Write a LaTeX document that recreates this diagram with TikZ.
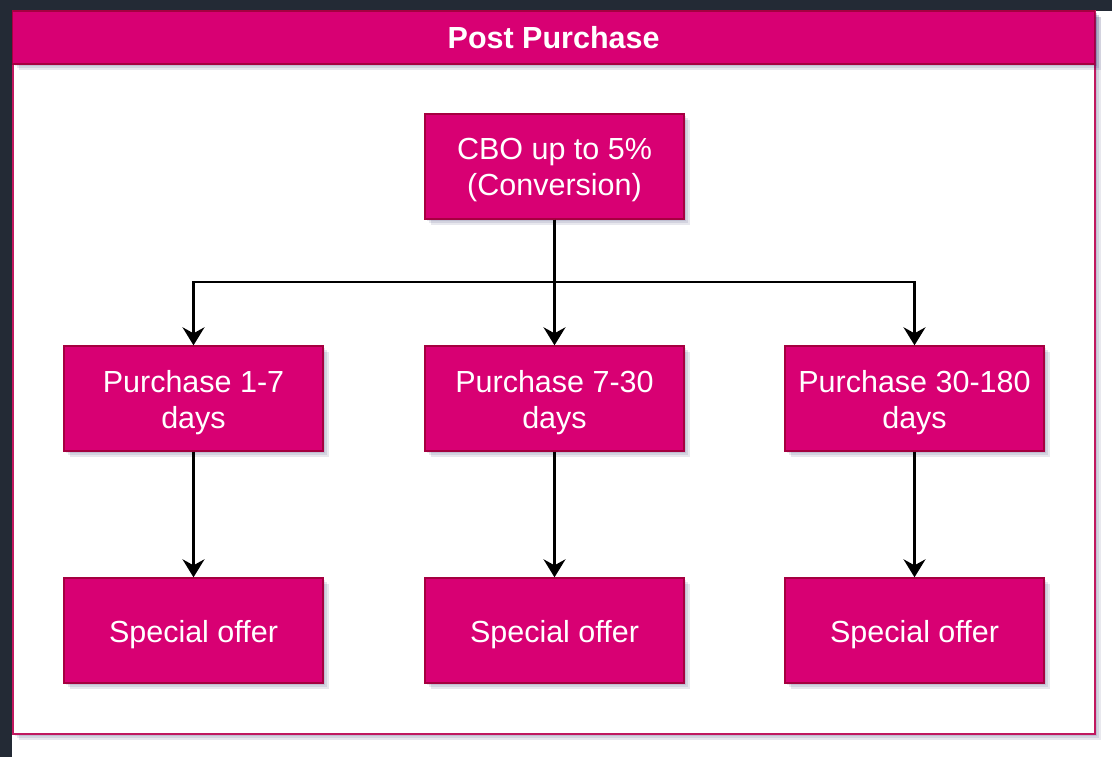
\documentclass[tikz,border=0pt]{standalone}
\usepackage{fontspec}
\setmainfont{Liberation Sans}
\usetikzlibrary{arrows.meta,shadows}

\definecolor{pagedark}{HTML}{232A35}
\definecolor{pinkfill}{HTML}{D80073}
\definecolor{pinkline}{HTML}{A50040}
\definecolor{frameline}{HTML}{C0185F}

\tikzset{
  % layered offset shadows give a soft edge
  softshadow/.style={
    general shadow={opacity=0.09, shadow xshift=2pt, shadow yshift=-2pt, fill=black!70!blue},
    general shadow={opacity=0.09, shadow xshift=4pt, shadow yshift=-4pt, fill=black!70!blue},
    general shadow={opacity=0.09, shadow xshift=6pt, shadow yshift=-6pt, fill=black!70!blue}},
  boxtext/.style={text=white, align=center, font=\fontsize{30.5}{36}\selectfont},
  stepbox/.style={
    draw=pinkline, line width=1.4pt, fill=pinkfill,
    minimum width=259pt, minimum height=105pt, inner sep=0pt, softshadow},
  link/.style={draw=black, line width=2.2pt,
    -{Stealth[length=18pt, width=22pt, inset=6pt]}},
}

\begin{document}
\begin{tikzpicture}[x=1pt, y=-1pt]
  % page backdrop
  \fill[pagedark] (0,0) rectangle (1112,757);
  \fill[white] (12,11) rectangle (1112,757);
  \useasboundingbox (0,0) rectangle (1112,757);

  % outer container with title bar
  \draw[frameline, line width=2pt, fill=white, softshadow] (12.7,11) rectangle (1094.5,733.5);
  \draw[pinkline, line width=1.4pt, fill=pinkfill, softshadow] (12.7,11) rectangle (1094.5,64);
  \node[text=white, font=\bfseries\fontsize{30.5}{36}\selectfont] (title) at (553.6,38) {Post Purchase};

  % top node
  \node[stepbox, label={[boxtext, yshift=-4pt]center:{CBO up to 5\%\\(Conversion)}}] (cbo) at (554.5,166.5) {};

  % purchase windows
  \node[stepbox, label={[boxtext, yshift=-4pt]center:{Purchase 1-7\\days}}] (p1) at (193.5,398.5) {};
  \node[stepbox, label={[boxtext, yshift=-4pt]center:{Purchase 7-30\\days}}] (p2) at (554.5,398.5) {};
  \node[stepbox, label={[boxtext, yshift=-4pt]center:{Purchase 30-180\\days}}] (p3) at (914.5,398.5) {};

  % offers
  \node[stepbox, label={[boxtext, yshift=-4pt]center:{Special offer}}] (s1) at (193.5,630.5) {};
  \node[stepbox, label={[boxtext, yshift=-4pt]center:{Special offer}}] (s2) at (554.5,630.5) {};
  \node[stepbox, label={[boxtext, yshift=-4pt]center:{Special offer}}] (s3) at (914.5,630.5) {};

  % branching connectors
  \coordinate (fork) at (554.5,282);
  \draw[link] (cbo.south) -- (fork) -| (p1.north);
  \draw[link] (cbo.south) -- (fork) -| (p3.north);
  \draw[link] (cbo.south) -- (p2.north);

  % window to offer connectors
  \draw[link] (p1.south) -- (s1.north);
  \draw[link] (p2.south) -- (s2.north);
  \draw[link] (p3.south) -- (s3.north);
\end{tikzpicture}
\end{document}
